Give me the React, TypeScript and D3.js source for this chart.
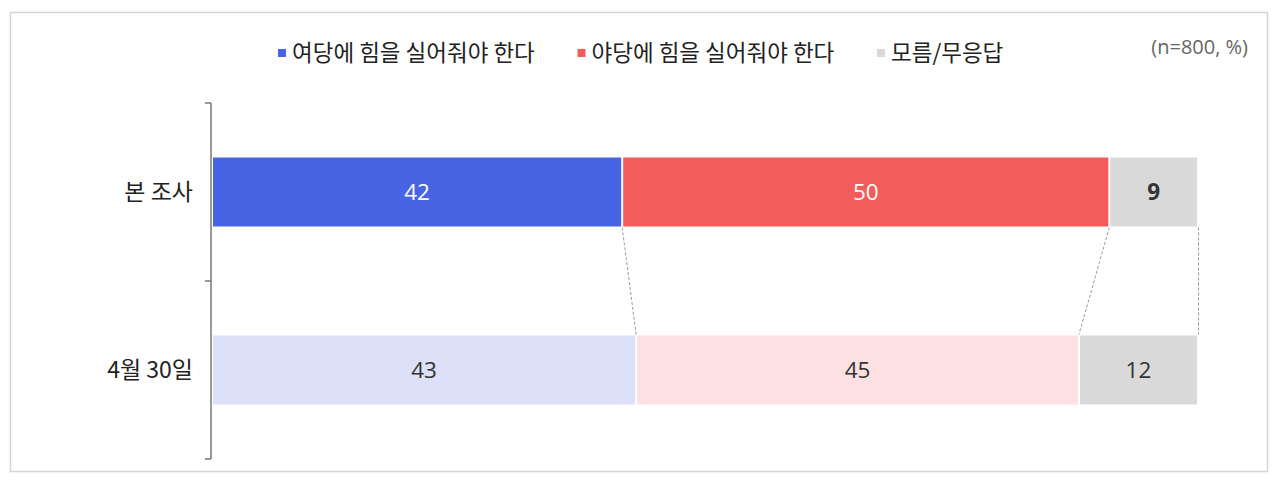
import { useMemo } from 'react';
import * as d3 from 'd3';

// ─── Data ──────────────────────────────────────────────────

const categories = ['본 조사', '4월 30일'];
const seriesNames = ['여당에 힘을 실어줘야 한다', '야당에 힘을 실어줘야 한다', '모름/무응답'];
const currentValues = [42, 50, 9];
const previousValues = [43, 45, 12];
const rows = [currentValues, previousValues];

const strongColors = ['#4664E4', '#F45B5B', '#D9D9D9'];
const paleColors = ['#DCE0F8', '#FDE1E2', '#D9D9D9'];
const sampleNote = '(n=800, %)';

const W = 1280;
const H = 483;
const KR = '"Noto Sans CJK KR", "Noto Sans", sans-serif';
const NUM = '"Open Sans", "Noto Sans CJK KR", sans-serif';

export default function App() {
  const plot = { left: 213, right: 1197, top: 103, bottom: 459 };
  const barH = 69;
  const gap = 2;

  const y = useMemo(
    () => d3.scaleBand<string>().domain(categories).range([plot.top, plot.bottom]),
    []
  );

  // each row is stacked to its own total so both bars fill the same width
  const stacked = rows.map((vals) => {
    const total = d3.sum(vals);
    const x = d3.scaleLinear().domain([0, total]).range([plot.left, plot.right]);
    let acc = 0;
    return vals.map((v) => {
      const s = { x0: x(acc), x1: x(acc + v), v };
      acc += v;
      return s;
    });
  });

  const bandTop = (c: string) => y(c)! + (y.bandwidth() - barH) / 2;
  const topBottom = bandTop(categories[0]) + barH;
  const lowTop = bandTop(categories[1]);

  return (
    <svg
      width={W}
      height={H}
      style={{ position: 'fixed', left: 0, top: 0, display: 'block', background: '#fff' }}
    >
      {/* frame */}
      <rect x={10.5} y={12.5} width={1257} height={459} fill="none" stroke="#d4d4d4" strokeWidth={1.5} />

      {/* legend */}
      {seriesNames.map((name, i) => (
        <g key={name} transform={`translate(${278 + i * 299.5},53)`}>
          <rect x={0} y={-4} width={8} height={8} fill={strongColors[i]} />
          <text x={14} y={0} dy="0.36em" fontFamily={KR} fontSize={22.5} fill="#222">
            {name}
          </text>
        </g>
      ))}
      <text x={1248} y={47} dy="0.35em" textAnchor="end" fontFamily={NUM} fontSize={20} fill="#666">
        {sampleNote}
      </text>

      {/* bracket axis */}
      <g stroke="#777" strokeWidth={1.5} fill="none">
        <line x1={211} x2={211} y1={plot.top} y2={plot.bottom} />
        {[...categories.map((c) => y(c)!), plot.bottom].map((ty) => (
          <line key={ty} x1={205} x2={211} y1={ty} y2={ty} />
        ))}
      </g>
      {categories.map((c) => (
        <text
          key={c}
          x={193}
          y={y(c)! + y.bandwidth() / 2}
          dy="0.35em"
          textAnchor="end"
          fontFamily={KR}
          fontSize={23}
          fill="#222"
        >
          {c}
        </text>
      ))}

      {/* connectors between the two bars */}
      <g stroke="#9a9a9a" strokeWidth={1} strokeDasharray="3,2" fill="none">
        {stacked[0].map((s, i) => (
          <line
            key={i}
            x1={i === stacked[0].length - 1 ? s.x1 + 1.5 : s.x1}
            x2={i === stacked[1].length - 1 ? stacked[1][i].x1 + 1.5 : stacked[1][i].x1}
            y1={topBottom + 1}
            y2={lowTop - 1}
          />
        ))}
      </g>

      {/* bars */}
      {stacked.map((segs, r) => (
        <g key={categories[r]}>
          {segs.map((s, i) => {
            const last = i === segs.length - 1;
            const x0 = s.x0 + (i === 0 ? 0 : gap / 2);
            const x1 = s.x1 - (last ? 0 : gap / 2);
            const cy = bandTop(categories[r]) + barH / 2;
            const white = r === 0 && i < 2;
            return (
              <g key={i}>
                <rect x={x0} y={bandTop(categories[r])} width={x1 - x0} height={barH}
                  fill={r === 0 ? strongColors[i] : paleColors[i]} />
                <text
                  x={(x0 + x1) / 2}
                  y={cy}
                  dy="0.36em"
                  textAnchor="middle"
                  fontFamily={NUM}
                  fontSize={22.5}
                  fontWeight={r === 0 && last ? 700 : 400}
                  fill={white ? '#fff' : '#333'}
                >
                  {s.v}
                </text>
              </g>
            );
          })}
        </g>
      ))}
    </svg>
  );
}
